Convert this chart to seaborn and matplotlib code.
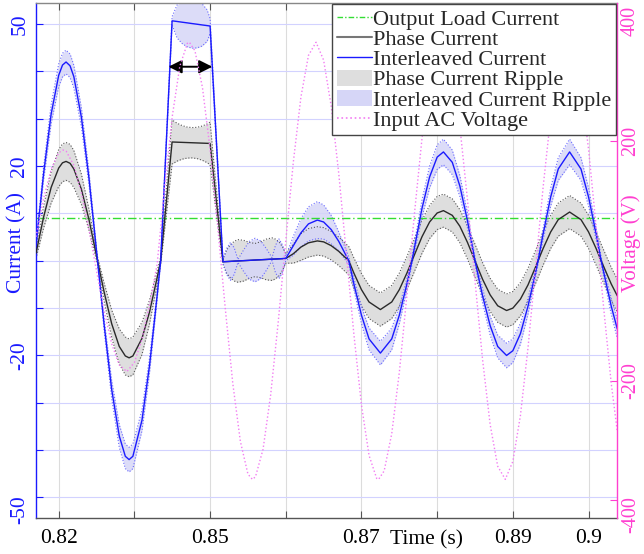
import numpy as np
import pandas as pd
import matplotlib
matplotlib.use("Agg")
import matplotlib.pyplot as plt
import matplotlib.transforms as mtransforms
from matplotlib.lines import Line2D
from matplotlib.patches import Patch
import seaborn as sns

# ---------------- data ----------------
# segment 1: normal operation, first cycle
left_time = [0.8170, 0.8180, 0.8190, 0.8200, 0.8205, 0.82097, 0.8215, 0.8220, 0.8230, 0.8240,
             0.82513, 0.8260, 0.8270, 0.8280, 0.8288, 0.8293, 0.8298, 0.8310, 0.8320, 0.8330,
             0.83347]
left_interleaved = [3.2, 18.4, 31.0, 39.2, 41.35, 42.0, 41.2, 38.9, 30.3, 17.4,
                    0.0, -13.5, -27.2, -37.0, -41.3, -42.0, -41.3, -33.7, -22.1, -7.4,
                    0.0]
left_phase = [1.6, 9.2, 15.5, 19.6, 20.7, 21.0, 20.6, 19.4, 15.1, 8.7,
              0.0, -6.6, -13.3, -18.1, -20.1, -20.5, -20.1, -16.4, -10.8, -3.6,
              0.0]
left_phase_ripple = [1.1, 2.3, 3.3, 3.9, 4.0, 4.0, 4.0, 3.9, 3.2, 2.2,
                     0.8, 1.9, 2.9, 3.7, 4.0, 4.0, 4.0, 3.4, 2.5, 1.4,
                     0.8]
left_inter_ripple = [0.7, 1.4, 2.0, 2.4, 2.5, 2.5, 2.5, 2.4, 2.0, 1.4,
                     0.5, 1.2, 1.9, 2.4, 2.6, 2.6, 2.6, 2.2, 1.6, 0.9,
                     0.5]

# segment 2: current limited (flat top) then drop
flat_time = [0.83498, 0.83564, 0.83630, 0.83696, 0.83762, 0.83828, 0.83894, 0.83960, 0.84000,
             0.84170]
flat_interleaved = [50.7, 50.56, 50.41, 50.27, 50.12, 49.98, 49.83, 49.69, 49.6, -0.2]
flat_phase = [25.1, 25.06, 25.02, 24.98, 24.94, 24.9, 24.86, 24.82, 24.8, -0.2]
flat_phase_ripple = [4.65, 4.0, 3.55, 3.28, 3.2, 3.3, 3.6, 4.08, 4.5, 0.5]
flat_inter_ripple = [0.9, 3.5, 4.5, 5.05, 5.2, 5.0, 4.46, 3.35, 1.6, 0.3]

# segment 3: converter off, current ~ 0
zero_time = [0.84220, 0.84269, 0.84319, 0.84368, 0.84444, 0.84518, 0.84593, 0.84668,
             0.84743, 0.84818, 0.84864, 0.84910, 0.84956]
zero_interleaved = [-0.16, -0.12, -0.07, -0.03, 0.03, 0.09, 0.16, 0.22, 0.28, 0.35, 0.38, 0.42, 0.46]
zero_phase = [-0.16, -0.12, -0.07, -0.03, 0.03, 0.09, 0.16, 0.22, 0.28, 0.35, 0.38, 0.42, 0.46]
zero_phase_ripple = [2.5, 3.5, 4.2, 4.5, 4.3, 3.8, 3.5, 3.8, 4.3, 4.5, 4.2, 3.6, 2.5]
zero_inter_ripple = [2.8, 4.0, 2.8, 0.3, 2.3, 4.0, 4.6, 4.0, 2.3, 0.3, 2.9, 4.2, 2.9]

# segment 4: restart at reduced current
right_time = [0.8500, 0.8510, 0.8520, 0.8530, 0.85417, 0.8550, 0.8560, 0.8570, 0.85833,
              0.8590, 0.8600, 0.8610, 0.8625, 0.8640, 0.8650, 0.8660, 0.86667,
              0.8680, 0.8690, 0.8700, 0.87083, 0.8720, 0.8730, 0.8740, 0.8750,
              0.8760, 0.8770, 0.8780, 0.87917, 0.8800, 0.8810, 0.8820, 0.8830, 0.88333,
              0.8840, 0.8850, 0.8860, 0.8875, 0.8890, 0.8900, 0.8910, 0.89167,
              0.8930, 0.8938]
right_interleaved = [0.5, 3.2, 5.9, 7.8, 8.6, 8.2, 6.6, 4.1, 0.0,
                     -4.9, -11.5, -16.5, -19.5, -16.5, -11.5, -4.9, 0.0,
                     11.1, 17.7, 21.9, 23.0, 20.8, 15.8, 8.5, 0.0,
                     -7.4, -13.7, -18.1, -20.0, -19.0, -15.4, -9.6, -2.5, 0.0,
                     5.7, 13.5, 19.4, 23.0, 19.4, 13.5, 5.7, 0.0,
                     -9.6, -14.4]
right_phase = [0.5, 1.5, 2.9, 3.8, 4.2, 4.0, 3.2, 2.0, 0.0,
               -2.6, -6.1, -8.7, -10.3, -8.7, -6.1, -2.6, 0.0,
               5.1, 8.2, 10.1, 10.6, 9.6, 7.3, 3.9, 0.0,
               -3.9, -7.2, -9.5, -10.5, -10.0, -8.1, -5.1, -1.3, 0.0,
               2.6, 6.1, 8.7, 10.3, 8.7, 6.1, 2.6, 0.0,
               -4.9, -7.4]
right_phase_ripple = [1.0, 2.0, 2.8, 3.0, 3.0, 3.0, 3.0, 3.0, 3.0,
                      3.2, 3.4, 3.5, 3.5, 3.5, 3.5, 3.5, 3.5,
                      3.5, 3.5, 3.5, 3.5, 3.5, 3.5, 3.5, 3.5,
                      3.5, 3.5, 3.5, 3.5, 3.5, 3.5, 3.5, 3.5, 3.5,
                      3.5, 3.5, 3.5, 3.5, 3.5, 3.5, 3.5, 3.5,
                      3.5, 3.5]
right_inter_ripple = [0.5, 2.0, 3.0, 3.6, 3.9, 3.6, 3.0, 2.0, 0.8,
                      1.2, 1.8, 2.3, 2.5, 2.3, 1.8, 1.2, 0.8,
                      1.8, 2.3, 2.6, 2.7, 2.6, 2.2, 1.6, 0.8,
                      1.5, 2.0, 2.4, 2.6, 2.5, 2.2, 1.7, 1.0, 0.8,
                      1.2, 1.9, 2.4, 2.7, 2.4, 1.9, 1.2, 0.8,
                      1.7, 2.0]

voltage_time = [0.817, 0.818, 0.819, 0.820, 0.82059, 0.821, 0.822, 0.823, 0.824, 0.825,
                0.826, 0.827, 0.828, 0.829, 0.830, 0.831, 0.832, 0.833, 0.834, 0.835,
                0.836, 0.837, 0.83726, 0.838, 0.839, 0.840, 0.841, 0.842, 0.843, 0.844,
                0.845, 0.84559, 0.846, 0.847, 0.848, 0.849, 0.850, 0.851, 0.852, 0.853,
                0.854, 0.855, 0.856, 0.857, 0.858, 0.859, 0.860, 0.861, 0.862, 0.86226,
                0.863, 0.864, 0.865, 0.866, 0.867, 0.868, 0.869, 0.870, 0.87059, 0.871,
                0.872, 0.873, 0.874, 0.875, 0.876, 0.877, 0.878, 0.879, 0.880, 0.881,
                0.882, 0.883, 0.884, 0.885, 0.886, 0.887, 0.88726, 0.888, 0.889, 0.890,
                0.891, 0.892, 0.893, 0.8938]
input_voltage = [40.1, 103.8, 152.8, 180.6, 185.0, 182.8, 159.5, 113.6, 52.0, -17.0,
                 -83.6, -138.6, -173.9, -185.0, -169.8, -131.0, -73.8, -6.1, 123.0, 240.9,
                 324.9, 363.2, 365.0, 350.8, 288.7, 186.5, 57.7, -78.8, -204.8, -301.5,
                 -356.2, -365.0, -360.6, -314.6, -224.1, -102.6, 33.6, 165.0, 273.4, 343.1,
                 365.0, 335.1, 258.4, 145.6, 12.0, -123.0, -240.9, -324.9, -363.2, -365.0,
                 -350.8, -288.7, -186.5, -57.7, 78.8, 204.8, 301.5, 356.2, 365.0, 360.6,
                 314.6, 224.1, 102.6, -33.6, -165.0, -273.4, -343.1, -365.0, -335.1, -258.4,
                 -145.6, -12.0, 123.0, 240.9, 324.9, 363.2, 365.0, 350.8, 288.7, 186.5,
                 57.7, -78.8, -204.8, -285.1]

output_load_current = 9.0

x_ticks = [0.82, 0.83, 0.84, 0.85, 0.86, 0.87, 0.88, 0.89]
x_tick_labels = ['0.82', '', '0.85', '', '0.87', '', '0.89', '0.9']
y_ticks = [-50, -40, -30, -20, -10, 0, 10, 20, 30, 40, 50]
y_tick_labels = ['-50', '', '', '-20', '', '', '', '20', '', '', '50']
v_ticks = [-400, -200, 200, 400]
v_tick_labels = ['-400', '-200', '200', '400']

legend_labels = ['Output Load Current', 'Phase Current', 'Interleaved Current',
                 'Phase Current Ripple', 'Interleaved Current Ripple', 'Input AC Voltage']

# ---------------- styling ----------------
sns.set_theme(style="white")
plt.rcParams['font.family'] = ['Liberation Serif', 'DejaVu Serif']

BLUE = '#1a1aff'
BLACK = '#2a2a2a'
GREEN = '#33dd33'
PINK_LINE = '#f27cf2'
PINK_AX = '#ff3fd0'
GRAY_FILL = '#dedede'
BLUE_FILL = '#d6d6f7'
FS = 15.5

df = pd.DataFrame({
    't': left_time + flat_time + zero_time + right_time,
    'inter': left_interleaved + flat_interleaved + zero_interleaved + right_interleaved,
    'phase': left_phase + flat_phase + zero_phase + right_phase,
    'pr': left_phase_ripple + flat_phase_ripple + zero_phase_ripple + right_phase_ripple,
    'ir': left_inter_ripple + flat_inter_ripple + zero_inter_ripple + right_inter_ripple,
})
df['phase_hi'] = df['phase'] + df['pr']
df['phase_lo'] = df['phase'] - df['pr']
df['inter_hi'] = df['inter'] + df['ir']
df['inter_lo'] = df['inter'] - df['ir']
dv = pd.DataFrame({'t': voltage_time, 'v': input_voltage})

fig = plt.figure(figsize=(6.44, 5.54), dpi=100)
ax = fig.add_axes([36 / 644, (554 - 518.3) / 554, 581.3 / 644, 515 / 554])

# ripple bands
ax.fill_between(df['t'], df['phase_lo'], df['phase_hi'], color=GRAY_FILL, lw=0, zorder=1)
ax.fill_between(df['t'], df['inter_lo'], df['inter_hi'], color=BLUE_FILL, alpha=0.85, lw=0, zorder=1.2)
for col in ['phase_hi', 'phase_lo']:
    sns.lineplot(data=df, x='t', y=col, ax=ax, color='#555555', lw=0.8, linestyle=':',
                 sort=False, estimator=None, legend=False, zorder=1.5)
for col in ['inter_hi', 'inter_lo']:
    sns.lineplot(data=df, x='t', y=col, ax=ax, color='#6a6aff', lw=0.8, linestyle=':',
                 sort=False, estimator=None, legend=False, zorder=1.5)

# currents
sns.lineplot(data=df, x='t', y='phase', ax=ax, color=BLACK, lw=1.0, sort=False,
             estimator=None, legend=False, zorder=3)
sns.lineplot(data=df, x='t', y='inter', ax=ax, color=BLUE, lw=1.0, sort=False,
             estimator=None, legend=False, zorder=3.2)
ax.axhline(output_load_current, color=GREEN, lw=1.0, linestyle=(0, (6, 2, 1, 2)), zorder=2.5)

# arrow annotation
ax.annotate('', xy=(0.8403, 41.0), xytext=(0.8345, 41.0),
            arrowprops=dict(arrowstyle='<|-|>', color='black', lw=1.4, mutation_scale=20,
                            shrinkA=0, shrinkB=0), zorder=5)

ax.set_xlim(0.8170, 0.8938)
ax.set_ylim(-54.4, 54.4)
ax.set_xticks(x_ticks)
ax.set_xticklabels(x_tick_labels)
ax.set_yticks(y_ticks)
ax.set_yticklabels(y_tick_labels)
ax.xaxis.grid(True, color='#dcdcdc', lw=0.8)
ax.yaxis.grid(True, color='#d2d2ff', lw=0.8)
ax.set_axisbelow(True)

ax.tick_params(axis='x', direction='in', length=5, width=0.8, top=True, bottom=True,
               pad=7.5, labelsize=FS, color='#555555', labelcolor='black')
ax.tick_params(axis='y', direction='in', length=5, width=0.8, left=True, right=False,
               pad=4.75, labelsize=FS, color=BLUE, labelcolor=BLUE, labelrotation=90)
for lab in ax.get_yticklabels():
    lab.set_va('center')
ax.set_xlabel('Time (s)', fontsize=FS, color='black')
ax.xaxis.set_label_coords(0.671, -0.042)
ax.xaxis.label.set_va('center')
ax.set_ylabel('Current (A)', fontsize=FS, color=BLUE)
ax.yaxis.set_label_coords(-0.0327, 0.535)
ax.yaxis.label.set_va('center')

ax.spines['left'].set_color(BLUE)
ax.spines['bottom'].set_color('#555555')
ax.spines['top'].set_color('#888888')
ax.spines['right'].set_visible(False)
for s in ax.spines.values():
    s.set_linewidth(1.0)

# voltage axis
ax2 = ax.twinx()
sns.lineplot(data=dv, x='t', y='v', ax=ax2, color=PINK_LINE, lw=1.0, linestyle=':',
             sort=False, estimator=None, legend=False, zorder=2)
ax2.set_ylim(-430, 430)
ax2.set_yticks(v_ticks)
ax2.set_yticklabels(v_tick_labels)
ax2.tick_params(axis='y', direction='in', length=5, width=0.8, right=True, pad=2.7,
                labelsize=14.5, color=PINK_AX, labelcolor=PINK_AX, labelrotation=90)
for lab in ax2.get_yticklabels():
    lab.set_va('center')
ax2.set_ylabel('Voltage (V)', fontsize=15, color=PINK_AX)
ax2.yaxis.set_label_coords(1.0245, 0.535)
ax2.yaxis.label.set_va('center')
ax2.spines['right'].set_color(PINK_AX)
ax2.spines['right'].set_linewidth(1.0)
for s in ['left', 'top', 'bottom']:
    ax2.spines[s].set_visible(False)
ax2.grid(False)

# bottom labels sit a little lower in the reference
off1 = mtransforms.ScaledTranslation(0, -12 / 100, fig.dpi_scale_trans)
off2 = mtransforms.ScaledTranslation(0, -14 / 100, fig.dpi_scale_trans)
lab0 = ax.get_yticklabels()[0]
lab0.set_transform(lab0.get_transform() + off1)
lab1 = ax2.get_yticklabels()[0]
lab1.set_transform(lab1.get_transform() + off2)

handles = [
    Line2D([], [], color=GREEN, lw=1.0, linestyle=(0, (4, 1.5, 1, 1.5))),
    Line2D([], [], color='#777777', lw=1.5),
    Line2D([], [], color=BLUE, lw=1.0),
    Patch(facecolor=GRAY_FILL, edgecolor='none'),
    Patch(facecolor=BLUE_FILL, edgecolor='none'),
    Line2D([], [], color=PINK_LINE, lw=1.2, linestyle=':'),
]
leg = ax2.legend(handles, legend_labels, loc='upper right', fontsize=16, frameon=True,
                 fancybox=False, framealpha=1.0, edgecolor='#444444', borderpad=0.2,
                 labelspacing=-0.03, handlelength=1.6, handleheight=0.75,
                 handletextpad=0.05, borderaxespad=0.05)
leg.get_frame().set_linewidth(1.0)
leg.set_zorder(10)

fig.savefig('out.png', dpi=100)
